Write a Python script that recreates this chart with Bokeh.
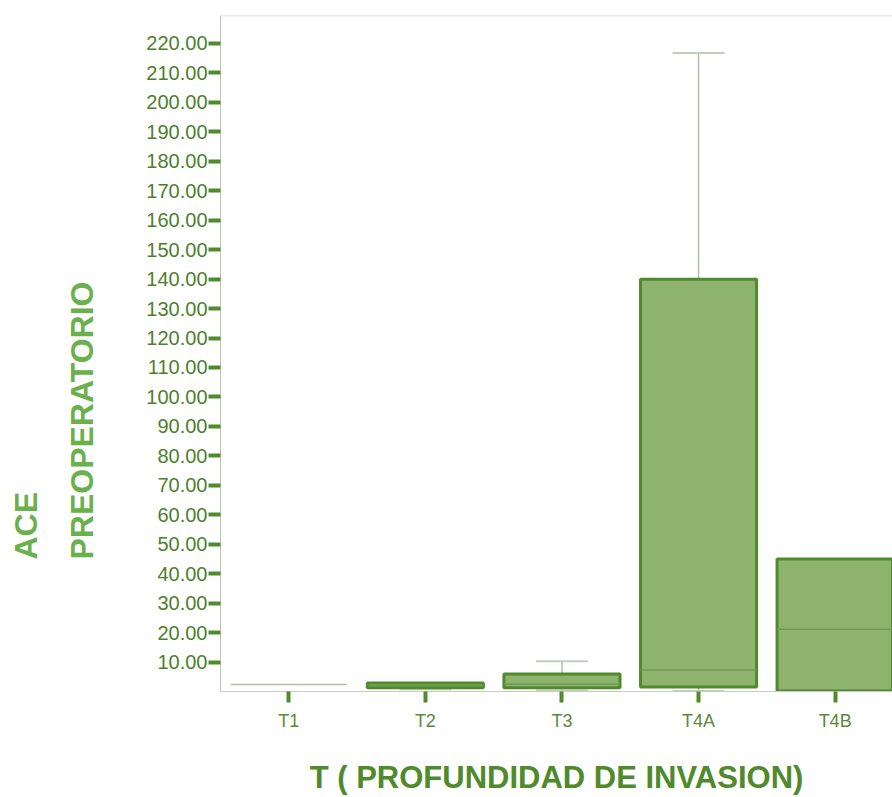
from bokeh.plotting import figure
from bokeh.models import (ColumnDataSource, FixedTicker, Span, Title,
                          NumeralTickFormatter)
from bokeh.embed import file_html
from bokeh.resources import INLINE

# Summary statistics of preoperative CEA by tumour depth (T stage)
categories = ["T1", "T2", "T3", "T4A", "T4B"]
lower_whisker = [2.4, 0.8, 0.3, 0.2, 0.2]
q1 = [2.4, 1.3, 1.3, 1.5, 0.2]
median = [2.4, 2.0, 2.5, 7.3, 21.1]
q3 = [2.4, 2.9, 5.9, 140.0, 45.0]
upper_whisker = [2.4, 2.9, 10.3, 216.8, 45.0]
y_ticks = list(range(10, 221, 10))

pos = list(range(len(categories)))
box_w = 0.85
cap_w = 0.38

DARK = "#4f8a2b"
FILL = "#8db36f"
TICK_TXT = "#4e7f2e"
TITLE_TXT = "#6ab04c"

p = figure(width=892, height=797, output_backend="svg", toolbar_location=None,
           x_range=(-0.5, 4.42), y_range=(0, 229.5),
           min_border_left=220, min_border_right=0, min_border_top=15,
           min_border_bottom=104)
p.outline_line_color = None
p.grid.visible = False
p.background_fill_color = "white"
p.border_fill_color = "white"

# y axis
p.yaxis.ticker = FixedTicker(ticks=y_ticks)
p.yaxis.formatter = NumeralTickFormatter(format="0.00")
p.yaxis.major_tick_in = 0
p.yaxis.major_tick_out = 12
p.yaxis.major_tick_line_width = 4
p.yaxis.major_tick_line_color = DARK
p.yaxis.minor_tick_line_color = None
p.yaxis.axis_line_color = "#b8cca8"
p.yaxis.major_label_text_font = "Liberation Sans"
p.yaxis.major_label_text_font_size = "20px"
p.yaxis.major_label_text_color = TICK_TXT
p.yaxis.major_label_standoff = 1

# x axis
p.xaxis.ticker = FixedTicker(ticks=pos)
p.xaxis.major_label_overrides = {i: c for i, c in zip(pos, categories)}
p.xaxis.major_tick_in = 0
p.xaxis.major_tick_out = 11
p.xaxis.major_tick_line_width = 4
p.xaxis.major_tick_line_color = DARK
p.xaxis.minor_tick_line_color = None
p.xaxis.axis_line_color = "#c8ccc4"
p.xaxis.major_label_text_font = "Liberation Sans"
p.xaxis.major_label_text_font_size = "18px"
p.xaxis.major_label_text_color = "#5a8a3a"
p.xaxis.major_label_standoff = 8
p.xaxis.axis_label = "T ( PROFUNDIDAD DE INVASION)"
p.xaxis.axis_label_text_font = "Liberation Sans"
p.xaxis.axis_label_text_font_style = "bold"
p.xaxis.axis_label_text_font_size = "31px"
p.xaxis.axis_label_text_color = DARK
p.xaxis.axis_label_standoff = 26

# gap between the tick labels and the y-axis title
p.add_layout(Title(text=" ", text_font_size="1px", standoff=22), "left")
# two-line vertical y-axis title, stacked outward from the axis
for txt, gap in (("PREOPERATORIO", 37), ("ACE", 0)):
    p.add_layout(Title(text=txt, align="left", offset=132, standoff=gap,
                       text_font="Liberation Sans", text_font_style="bold",
                       text_font_size="32px", text_color=TITLE_TXT), "left")

# top border of the frame
p.add_layout(Span(location=229.5, dimension="width", line_color="#d0d8c8",
                  line_width=1.5))

src = ColumnDataSource(dict(x=pos, lo=lower_whisker, q1=q1, med=median,
                            q3=q3, hi=upper_whisker))

# whiskers
p.segment(x0="x", y0="q3", x1="x", y1="hi", source=src,
          line_color="#b4bcac", line_width=1.5)
p.segment(x0="x", y0="lo", x1="x", y1="q1", source=src,
          line_color="#b4bcac", line_width=1.5)
cap_x0, cap_x1, cap_y = [], [], []
for i in pos:
    if upper_whisker[i] > q3[i]:
        cap_x0.append(i - cap_w / 2); cap_x1.append(i + cap_w / 2)
        cap_y.append(upper_whisker[i])
    if lower_whisker[i] < q1[i]:
        cap_x0.append(i - cap_w / 2); cap_x1.append(i + cap_w / 2)
        cap_y.append(lower_whisker[i])
p.segment(x0=cap_x0, y0=cap_y, x1=cap_x1, y1=cap_y,
          line_color="#c4ccbc", line_width=2)

# boxes (degenerate boxes drawn as a single line)
boxed = [i for i in pos if q3[i] > q1[i]]
flat = [i for i in pos if q3[i] <= q1[i]]
p.vbar(x=boxed, width=box_w, bottom=[q1[i] for i in boxed],
       top=[q3[i] for i in boxed], fill_color=FILL, line_color=DARK,
       line_width=3)
p.segment(x0=[i - box_w / 2 for i in flat], y0=[median[i] for i in flat],
          x1=[i + box_w / 2 for i in flat], y1=[median[i] for i in flat],
          line_color="#b4bcac", line_width=1.5)

# medians
p.segment(x0=[i - box_w / 2 for i in boxed], y0=[median[i] for i in boxed],
          x1=[i + box_w / 2 for i in boxed], y1=[median[i] for i in boxed],
          line_color="#6f9a55", line_width=1.5)

open("out.html", "w").write(file_html(p, INLINE))
